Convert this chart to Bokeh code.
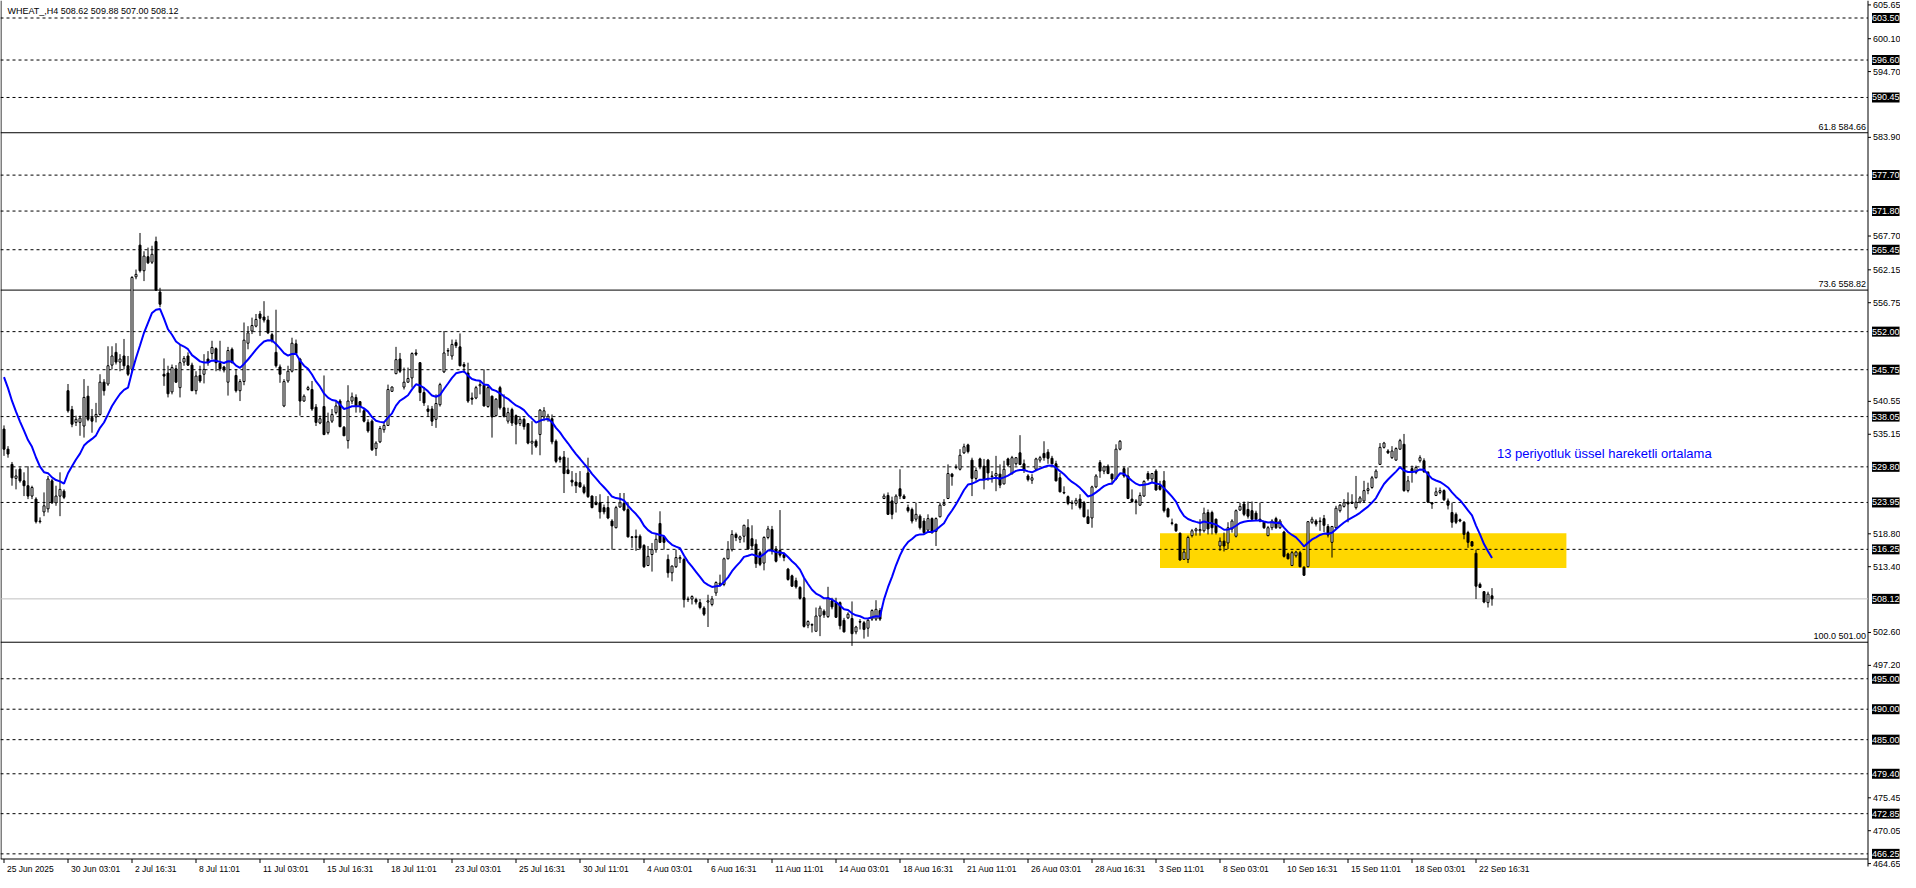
from bokeh.plotting import figure
from bokeh.models import Range1d, Label, ColumnDataSource
from bokeh.core.properties import value
from bokeh.embed import file_html
from bokeh.resources import INLINE

symbol_title = "WHEAT_,H4  508.62 509.88 507.00 508.12"

opens = [
    536.0, 532.7, 530.2, 527.9, 529.4, 527.5, 526.7, 525.0, 524.5, 520.8,
    522.4, 522.9, 527.5, 523.9, 525.0, 525.8, 542.3, 539.2, 537.1, 537.1,
    536.5, 541.4, 537.9, 538.0, 538.4, 543.7, 543.4, 546.5, 548.6, 547.0,
    548.0, 546.4, 545.8, 561.0, 566.2, 562.0, 564.3, 563.4, 566.8, 558.5,
    545.0, 545.2, 542.1, 545.9, 542.8, 547.0, 548.0, 546.5, 542.3, 544.8,
    545.0, 547.5, 548.4, 549.2, 546.8, 546.2, 543.7, 549.1, 544.8, 542.3,
    543.8, 550.1, 552.1, 552.9, 554.9, 554.4, 553.9, 551.5, 548.6, 546.2,
    539.8, 543.9, 545.5, 550.0, 547.5, 540.6, 542.5, 542.5, 539.6, 537.0,
    539.7, 535.4, 537.3, 538.7, 540.6, 536.3, 534.1, 540.6, 541.2, 540.5,
    539.0, 537.1, 537.3, 532.8, 533.9, 535.9, 536.6, 542.2, 545.1, 547.5,
    542.9, 543.7, 544.4, 548.5, 546.9, 542.0, 539.3, 539.3, 537.6, 540.0,
    545.4, 548.8, 548.0, 550.2, 549.5, 546.6, 545.2, 541.1, 541.1, 543.1,
    543.2, 539.7, 541.4, 538.2, 542.8, 539.5, 537.3, 539.2, 538.2, 536.9,
    537.6, 536.9, 533.7, 534.0, 535.1, 538.0, 537.6, 537.7, 534.0, 531.3,
    531.4, 529.3, 527.6, 527.3, 527.2, 526.5, 528.8, 525.0, 524.0, 523.9,
    523.1, 523.1, 520.9, 519.8, 523.2, 523.8, 522.8, 518.3, 518.4, 518.4,
    516.9, 513.6, 515.4, 516.2, 520.5, 518.3, 514.6, 512.4, 513.4, 514.7,
    514.6, 508.0, 508.1, 508.0, 507.5, 506.6, 507.6, 507.2, 509.1, 510.5,
    510.5, 514.7, 516.2, 518.7, 517.9, 518.4, 519.8, 518.0, 517.1, 515.7,
    514.0, 518.2, 519.5, 516.3, 516.1, 515.4, 513.0, 511.9, 511.1, 510.0,
    508.3, 503.8, 503.8, 502.8, 505.3, 506.1, 505.2, 507.8, 507.5, 507.5,
    504.6, 505.0, 504.9, 502.7, 504.4, 504.2, 503.3, 504.8, 504.8, 506.2,
    524.6, 525.1, 524.2, 523.8, 526.2, 525.0, 523.1, 522.8, 521.2, 521.7,
    520.9, 519.4, 521.3, 519.2, 521.6, 523.5, 524.6, 528.6, 529.7, 529.4,
    532.1, 533.4, 530.9, 527.9, 531.1, 529.9, 530.9, 528.3, 528.3, 528.6,
    527.0, 531.1, 528.7, 530.3, 532.1, 530.3, 528.3, 527.6, 529.4, 530.9,
    532.0, 532.2, 531.2, 530.3, 528.0, 525.6, 524.9, 523.8, 523.8, 524.5,
    523.9, 521.6, 521.4, 526.5, 530.5, 529.1, 529.9, 528.6, 527.8, 532.7,
    529.5, 528.3, 524.5, 524.2, 523.5, 525.0, 528.7, 527.8, 529.1, 526.7,
    527.5, 522.9, 520.6, 520.4, 518.9, 514.6, 514.6, 518.5, 519.3, 519.3,
    519.3, 522.3, 522.3, 521.2, 516.8, 517.6, 517.3, 519.6, 518.4, 522.7,
    523.7, 522.8, 522.6, 522.2, 521.2, 520.7, 518.5, 519.8, 521.3, 519.8,
    519.1, 515.5, 513.6, 515.2, 515.7, 513.3, 513.4, 520.7, 520.9, 520.8,
    521.3, 520.0, 517.4, 519.8, 522.6, 523.3, 524.0, 524.0, 523.1, 524.0,
    524.2, 525.9, 526.4, 528.0, 530.2, 533.0, 532.4, 531.3, 530.9, 532.7,
    533.5, 525.9, 529.5, 528.9, 530.8, 530.8, 528.9, 523.9, 525.1, 525.6,
    525.9, 524.2, 522.3, 522.0, 521.1, 520.7, 519.0, 517.5, 515.6, 510.5,
    509.3, 507.5, 508.62,
]

highs = [
    536.6, 533.2, 530.6, 529.4, 529.7, 528.9, 529.9, 526.7, 524.8, 521.5,
    525.6, 528.3, 527.8, 526.7, 528.9, 526.1, 543.4, 539.8, 538.2, 538.2,
    544.2, 543.1, 539.3, 540.3, 545.0, 544.2, 549.6, 549.6, 550.1, 548.3,
    550.8, 548.0, 561.1, 562.2, 568.2, 565.2, 565.8, 566.1, 567.6, 559.2,
    547.6, 546.4, 546.6, 546.5, 549.9, 548.0, 548.6, 546.9, 545.5, 546.4,
    548.3, 548.8, 550.5, 549.4, 550.5, 546.4, 549.5, 549.4, 545.8, 544.2,
    553.5, 552.9, 554.3, 554.9, 555.4, 557.0, 554.6, 551.8, 555.6, 546.6,
    544.2, 546.4, 551.0, 550.7, 547.7, 541.7, 543.1, 543.9, 540.1, 538.2,
    544.8, 538.7, 539.3, 540.6, 540.9, 536.5, 543.2, 542.0, 541.7, 540.6,
    539.3, 537.6, 537.6, 534.0, 536.5, 537.2, 543.3, 543.0, 549.5, 548.5,
    546.1, 546.1, 548.6, 549.1, 547.0, 542.9, 539.9, 539.8, 541.7, 543.6,
    552.1, 549.3, 550.7, 550.7, 551.7, 547.0, 546.9, 542.0, 543.1, 544.0,
    545.8, 543.1, 541.5, 541.1, 543.1, 541.7, 539.5, 539.5, 538.4, 538.1,
    537.9, 537.0, 537.3, 534.3, 539.3, 539.6, 538.5, 538.4, 534.3, 531.6,
    532.4, 531.3, 529.1, 528.8, 529.1, 526.9, 531.3, 525.1, 525.0, 525.3,
    523.6, 525.0, 521.2, 523.4, 525.5, 525.5, 524.0, 518.4, 519.5, 518.7,
    517.1, 516.8, 517.3, 518.7, 522.5, 518.4, 515.4, 513.6, 516.2, 515.3,
    514.9, 508.5, 508.7, 508.3, 508.1, 506.9, 508.8, 508.6, 511.0, 512.1,
    514.9, 517.6, 519.4, 519.0, 518.5, 520.3, 521.2, 520.2, 517.9, 516.0,
    518.4, 520.1, 520.1, 516.8, 522.7, 515.7, 513.2, 512.1, 511.6, 510.2,
    511.5, 504.6, 504.1, 506.7, 507.0, 506.4, 510.1, 508.3, 508.3, 507.7,
    505.0, 505.9, 507.7, 503.7, 504.8, 504.5, 504.8, 506.4, 507.9, 506.6,
    525.4, 525.6, 524.9, 525.3, 529.4, 525.3, 523.6, 523.1, 523.9, 522.0,
    521.4, 522.0, 521.5, 521.5, 523.9, 524.5, 530.2, 528.8, 530.2, 532.7,
    533.6, 533.6, 531.3, 529.7, 531.3, 531.1, 531.1, 529.1, 531.6, 530.2,
    530.8, 531.3, 531.6, 531.4, 535.0, 531.0, 528.6, 528.6, 531.3, 531.6,
    534.0, 532.7, 531.6, 530.8, 528.8, 526.6, 525.1, 524.3, 524.7, 525.3,
    524.2, 522.8, 526.7, 528.6, 530.9, 530.0, 530.2, 528.7, 533.5, 534.2,
    529.8, 529.7, 526.1, 524.5, 525.6, 527.6, 529.1, 528.8, 529.4, 527.5,
    529.1, 523.1, 521.3, 520.4, 519.0, 516.3, 518.5, 519.6, 519.8, 521.2,
    523.1, 522.8, 522.6, 521.3, 518.2, 519.0, 520.7, 521.2, 522.8, 523.9,
    524.1, 524.1, 524.1, 522.6, 523.9, 520.9, 520.1, 521.2, 521.6, 521.2,
    519.3, 515.7, 516.0, 516.0, 516.0, 513.5, 520.9, 521.6, 521.2, 521.5,
    521.9, 520.4, 520.1, 523.4, 523.7, 524.5, 525.6, 525.3, 528.3, 525.0,
    527.5, 527.2, 528.3, 529.4, 533.7, 533.9, 532.7, 533.2, 533.0, 534.4,
    535.2, 528.3, 530.0, 530.0, 531.7, 531.2, 529.1, 524.0, 526.4, 526.4,
    526.1, 524.6, 523.9, 522.3, 521.3, 520.9, 519.3, 517.6, 516.2, 510.8,
    509.4, 509.3, 509.88,
]

lows = [
    531.6, 531.3, 526.7, 526.1, 527.2, 525.0, 524.5, 524.5, 520.5, 520.5,
    521.7, 522.3, 523.7, 523.4, 521.7, 524.5, 538.7, 536.3, 536.5, 534.9,
    534.6, 537.3, 535.4, 537.1, 538.2, 541.5, 543.1, 545.8, 546.6, 545.5,
    545.8, 544.7, 545.3, 560.6, 561.7, 560.3, 563.1, 563.1, 558.8, 556.0,
    543.1, 541.2, 541.7, 543.6, 541.2, 546.4, 546.4, 542.3, 541.7, 543.6,
    543.5, 546.4, 547.5, 545.5, 545.5, 545.3, 541.5, 546.8, 542.0, 540.6,
    543.2, 549.1, 551.6, 552.7, 551.3, 553.5, 551.6, 550.2, 546.1, 543.6,
    539.6, 543.6, 545.3, 548.3, 538.2, 540.5, 542.3, 539.0, 536.5, 536.8,
    535.0, 535.1, 537.0, 538.4, 536.3, 534.9, 532.8, 540.1, 538.7, 538.7,
    537.1, 535.4, 532.4, 531.6, 533.7, 535.4, 536.5, 542.1, 545.0, 545.2,
    542.5, 543.6, 542.8, 548.0, 540.6, 539.8, 538.1, 536.5, 536.2, 539.7,
    545.2, 548.0, 547.4, 549.3, 546.3, 545.2, 540.3, 540.0, 540.9, 541.7,
    539.7, 539.5, 534.6, 538.1, 539.2, 537.9, 536.9, 536.5, 533.5, 536.5,
    535.9, 533.5, 531.8, 532.9, 531.7, 537.3, 537.2, 533.5, 530.4, 530.5,
    525.5, 528.6, 526.6, 525.5, 526.4, 525.3, 524.7, 523.0, 523.5, 521.3,
    522.0, 521.2, 516.2, 519.7, 523.1, 522.5, 518.2, 516.5, 516.0, 516.2,
    513.2, 513.5, 512.6, 515.7, 517.3, 516.2, 511.6, 511.0, 513.2, 514.0,
    506.7, 507.6, 507.2, 507.2, 506.4, 505.3, 503.5, 506.9, 508.6, 510.2,
    510.2, 514.6, 515.9, 517.6, 517.3, 517.4, 516.2, 516.2, 513.2, 513.5,
    512.8, 517.9, 515.4, 514.1, 514.9, 514.3, 511.1, 510.1, 509.8, 508.0,
    503.4, 503.3, 502.6, 502.8, 502.0, 505.0, 505.0, 506.4, 505.0, 503.1,
    502.6, 504.8, 500.4, 502.3, 503.1, 501.6, 501.9, 504.5, 504.5, 504.5,
    524.5, 521.9, 521.2, 522.3, 524.5, 524.5, 522.3, 520.5, 520.8, 519.5,
    518.7, 519.0, 518.8, 516.8, 521.5, 523.4, 524.5, 526.7, 529.4, 529.2,
    531.9, 532.0, 525.0, 527.5, 529.4, 526.1, 527.5, 527.2, 525.8, 526.3,
    526.9, 529.8, 528.5, 530.0, 530.1, 528.8, 527.4, 527.0, 529.1, 530.5,
    530.8, 530.3, 530.2, 527.4, 525.6, 525.3, 523.5, 522.8, 523.4, 522.8,
    521.5, 520.4, 519.8, 526.3, 528.0, 528.6, 528.6, 526.9, 527.6, 532.5,
    528.0, 524.5, 523.9, 522.0, 523.4, 524.9, 527.5, 527.2, 525.9, 525.9,
    522.3, 521.5, 520.2, 519.1, 514.4, 514.5, 514.0, 518.2, 518.5, 518.5,
    519.0, 518.7, 518.7, 518.7, 516.0, 515.9, 516.3, 519.0, 518.2, 522.6,
    521.7, 521.3, 521.1, 520.9, 520.7, 519.6, 518.4, 519.4, 519.6, 519.6,
    514.9, 514.6, 513.5, 514.9, 513.3, 511.9, 513.3, 520.4, 520.0, 519.3,
    519.1, 518.2, 514.9, 519.6, 522.3, 523.1, 520.7, 523.7, 522.8, 523.8,
    523.9, 525.3, 526.2, 527.9, 530.1, 532.8, 531.9, 531.1, 530.8, 532.6,
    525.7, 525.6, 527.2, 528.6, 530.5, 528.8, 523.9, 522.9, 525.0, 525.3,
    524.2, 522.8, 519.8, 520.4, 520.7, 517.9, 516.5, 516.7, 508.1, 510.0,
    507.4, 506.7, 507.00,
]

closes = [
    532.7, 531.9, 528.0, 528.3, 527.5, 526.7, 525.0, 526.4, 520.8, 520.9,
    523.4, 527.8, 523.9, 525.0, 526.1, 524.8, 539.0, 536.8, 537.6, 537.8,
    541.2, 537.6, 537.3, 538.4, 543.7, 542.3, 546.4, 548.0, 547.0, 547.5,
    546.4, 545.0, 560.9, 561.4, 562.0, 564.4, 563.3, 564.7, 558.8, 556.5,
    544.7, 541.8, 546.1, 543.7, 546.9, 547.6, 546.5, 542.3, 544.7, 543.9,
    545.8, 546.9, 549.4, 546.9, 545.9, 545.7, 548.9, 546.9, 542.3, 543.8,
    550.6, 551.8, 553.0, 554.0, 554.2, 553.9, 551.8, 550.5, 546.4, 545.0,
    543.8, 545.5, 550.1, 548.4, 540.6, 541.4, 542.8, 539.3, 537.1, 537.7,
    535.1, 537.2, 538.4, 539.8, 536.4, 534.9, 540.6, 541.3, 539.8, 539.7,
    537.3, 535.7, 532.6, 533.7, 536.1, 536.6, 542.5, 542.9, 547.4, 545.5,
    543.7, 544.3, 548.4, 548.3, 542.0, 540.3, 538.9, 537.3, 540.2, 543.3,
    548.5, 548.9, 549.9, 549.7, 546.4, 546.3, 540.6, 540.9, 542.8, 543.3,
    539.8, 542.8, 538.0, 540.9, 539.5, 538.1, 538.7, 537.0, 536.8, 537.6,
    536.4, 533.7, 534.0, 533.2, 539.1, 539.0, 538.1, 533.9, 530.7, 531.0,
    528.7, 528.7, 527.3, 526.7, 526.5, 525.6, 524.9, 523.1, 523.6, 522.4,
    522.4, 521.4, 520.1, 523.1, 523.9, 522.7, 518.3, 518.2, 518.2, 516.5,
    513.4, 515.1, 516.2, 517.9, 517.4, 517.4, 512.4, 513.5, 514.9, 514.9,
    508.0, 508.1, 508.5, 507.6, 506.7, 505.6, 507.8, 508.1, 510.8, 510.7,
    514.7, 516.2, 518.7, 518.2, 518.3, 520.2, 516.3, 516.8, 513.9, 513.8,
    518.2, 519.6, 516.0, 514.3, 515.3, 514.9, 511.3, 510.2, 510.1, 508.2,
    503.6, 504.4, 503.9, 505.3, 506.6, 505.5, 508.3, 506.8, 505.1, 503.7,
    502.7, 505.6, 502.4, 503.5, 504.3, 503.1, 504.6, 506.2, 506.4, 504.8,
    525.0, 522.0, 522.0, 525.0, 525.0, 524.6, 522.6, 520.9, 522.0, 519.8,
    519.0, 521.3, 519.0, 521.3, 523.5, 523.8, 528.7, 528.2, 529.8, 531.7,
    533.1, 532.3, 527.9, 529.2, 529.8, 527.7, 528.8, 528.2, 528.7, 526.8,
    529.4, 530.1, 531.3, 531.3, 530.2, 529.2, 527.7, 528.0, 531.1, 531.3,
    531.3, 531.2, 530.3, 527.5, 525.7, 525.5, 523.8, 523.9, 524.3, 523.1,
    521.6, 520.5, 526.5, 528.3, 529.1, 529.8, 528.7, 527.8, 532.7, 534.0,
    528.3, 524.6, 524.1, 524.1, 525.1, 527.4, 527.8, 528.7, 526.0, 526.1,
    522.6, 521.6, 520.5, 519.3, 514.5, 515.8, 518.2, 519.3, 519.6, 519.5,
    522.2, 519.6, 519.8, 519.0, 517.6, 516.8, 519.8, 520.9, 522.6, 523.3,
    522.0, 521.7, 521.2, 521.2, 520.9, 519.8, 519.8, 520.9, 519.8, 520.9,
    515.1, 514.7, 515.7, 515.8, 513.4, 512.0, 520.8, 521.2, 520.4, 520.9,
    520.2, 518.6, 520.0, 523.0, 523.5, 523.9, 523.7, 523.8, 524.0, 524.7,
    525.9, 526.2, 528.0, 529.1, 533.0, 533.7, 532.1, 532.4, 532.8, 534.1,
    525.9, 527.5, 528.9, 529.7, 531.3, 529.0, 524.0, 523.7, 525.7, 525.9,
    524.4, 523.5, 520.7, 520.7, 520.9, 518.7, 517.4, 516.8, 510.2, 510.0,
    507.6, 508.9, 508.12,
]

time_labels = [
    "25 Jun 2025", "30 Jun 03:01", "2 Jul 16:31", "8 Jul 11:01", "11 Jul 03:01",
    "15 Jul 16:31", "18 Jul 11:01", "23 Jul 03:01", "25 Jul 16:31", "30 Jul 11:01",
    "4 Aug 03:01", "6 Aug 16:31", "11 Aug 11:01", "14 Aug 03:01", "18 Aug 16:31",
    "21 Aug 11:01", "26 Aug 03:01", "28 Aug 16:31", "3 Sep 11:01", "8 Sep 03:01",
    "10 Sep 16:31", "15 Sep 11:01", "18 Sep 03:01", "22 Sep 16:31",
]
bars_per_label = 16

level_lines = [603.50, 596.60, 590.45, 577.70, 571.80, 565.45, 552.00, 545.75,
               538.05, 529.80, 523.95, 516.25, 495.00, 490.00, 485.00, 479.40,
               472.85, 466.25]
fib_levels = [584.66, 558.82, 501.00]
fib_names = ["61.8", "73.6", "100.0"]
bid_price = 508.12

price_scale_values = [605.65, 600.10, 594.70, 583.90, 567.70, 562.15, 556.75, 540.55,
                      535.15, 518.80, 513.40, 502.60, 497.20, 475.45, 470.05, 464.65]

zone_start_bar, zone_end_bar = 289, 390.6
zone_bottom, zone_top = 513.2, 518.9

ema_period = 13
ema_prior = 546.5
ema_note = "13 periyotluk üssel hareketli ortalama"
ema_note_bar, ema_note_price = 373.25, 532.0

# ---------------- layout constants (pixels) ----------------
FONT = "Liberation Sans"
canvas_w, canvas_h = 1900, 872
px_per_bar = 4.0
first_bar_px = 3.5           # centre of bar 0 from the left edge
scale_px = 1867.5            # price-scale line
chart_bottom_px = 858.5      # bottom border of the chart area
tick_len_px = 4
time_text_px = 868          # centre line of the time texts
px_per_price = 6.09
price_top = 603.50 + 17.5 / px_per_price

x_start = -first_bar_px / px_per_bar
x_end = x_start + canvas_w / px_per_bar
x_scale = x_start + scale_px / px_per_bar


def y_px(px):
    """price at a given distance in pixels from the top edge"""
    return price_top - px / px_per_price


price_bottom = y_px(canvas_h)

n = len(closes)
xs = list(range(n))
alpha = 2.0 / (ema_period + 1)
ema = []
prev = ema_prior
for c in closes:
    prev = prev + alpha * (c - prev)
    ema.append(prev)

src = ColumnDataSource(dict(
    x=xs, open=opens, high=highs, low=lows, close=closes,
    top=[max(o, c) for o, c in zip(opens, closes)],
    bottom=[min(o, c) for o, c in zip(opens, closes)],
    fill=["white" if c > o else "black" for o, c in zip(opens, closes)],
))

p = figure(width=canvas_w, height=canvas_h,
           x_range=Range1d(x_start, x_end), y_range=Range1d(price_bottom, price_top),
           x_axis_location=None, y_axis_location=None,
           output_backend="svg", toolbar_location=None,
           min_border_left=0, min_border_top=0, min_border_right=0, min_border_bottom=0,
           background_fill_color="white", border_fill_color="white",
           outline_line_color=None)
p.grid.visible = False

# chart borders: left edge, bottom edge, price-scale line
p.segment(x0=[x_start + 0.5 / px_per_bar], x1=[x_start + 0.5 / px_per_bar],
          y0=[y_px(0)], y1=[y_px(chart_bottom_px)], line_color="black", line_width=1)
p.segment(x0=[x_start], x1=[x_scale], y0=[y_px(chart_bottom_px)], y1=[y_px(chart_bottom_px)],
          line_color="black", line_width=1)
p.segment(x0=[x_scale], x1=[x_scale], y0=[y_px(0)], y1=[y_px(866)],
          line_color="black", line_width=1)

# highlighted zone
p.quad(left=[zone_start_bar], right=[zone_end_bar], bottom=[zone_bottom], top=[zone_top],
       fill_color="#FFD700", line_color=None)

# horizontal levels, ending at the price scale
p.segment(x0=[x_start] * len(level_lines), x1=[x_scale] * len(level_lines),
          y0=level_lines, y1=level_lines, line_color="black", line_dash="3 3", line_width=1)
p.segment(x0=[x_start] * len(fib_levels), x1=[x_scale] * len(fib_levels),
          y0=fib_levels, y1=fib_levels, line_color="black", line_width=1)
p.segment(x0=[x_start], x1=[x_scale], y0=[bid_price], y1=[bid_price],
          line_color="#C0C0C0", line_width=1)

# candles
p.segment(x0="x", y0="low", x1="x", y1="high", source=src, line_color="black", line_width=1)
p.vbar(x="x", width=0.5, top="top", bottom="bottom", source=src,
       fill_color="fill", line_color="black", line_width=1)

# EMA
p.line(xs, ema, line_color="#0000FF", line_width=2)

# time scale: tick marks below the bottom border and texts to their right
tick_bars = [k * bars_per_label for k in range(len(time_labels))]
p.segment(x0=tick_bars, x1=tick_bars, y0=[y_px(chart_bottom_px)] * len(tick_bars),
          y1=[y_px(chart_bottom_px + tick_len_px)] * len(tick_bars),
          line_color="black", line_width=1)
p.text(x=tick_bars, y=[y_px(time_text_px)] * len(tick_bars), text=time_labels,
       x_offset=3, text_font=value(FONT), text_font_size="8.5px", text_color="black",
       text_baseline="middle", text_align="left")

# price scale: tick marks and texts
m = len(price_scale_values)
p.segment(x0=[x_scale] * m, x1=[x_scale + 3 / px_per_bar] * m,
          y0=price_scale_values, y1=price_scale_values, line_color="black", line_width=1)
p.text(x=[x_scale] * m, y=price_scale_values, text=[f"{v:.2f}" for v in price_scale_values],
       x_offset=5, text_font=value(FONT), text_font_size="9px", text_color="black",
       text_baseline="middle", text_align="left")

# boxed prices of the horizontal levels and of the bid
for lvl in level_lines + [bid_price]:
    p.add_layout(Label(x=x_scale, y=lvl, x_offset=4, text=f"{lvl:.2f}",
                       text_font=FONT, text_font_size="9px", text_color="white",
                       background_fill_color="black", padding=(0, 2),
                       text_baseline="middle", text_align="left"))

# title
p.add_layout(Label(x=x_start, y=price_top, x_offset=7, y_offset=-10,
                   text=symbol_title, text_font=FONT, text_font_size="9px",
                   text_color="black", text_baseline="middle", text_align="left"))

# EMA note
p.add_layout(Label(x=ema_note_bar, y=ema_note_price, text=ema_note, text_font=FONT,
                   text_font_size="13px", text_color="#0000FF",
                   text_baseline="middle", text_align="left"))

# fib texts
for name, lvl in zip(fib_names, fib_levels):
    p.add_layout(Label(x=x_scale, y=lvl, x_offset=-2, y_offset=1,
                       text=f"{name} {lvl:.2f}", text_font=FONT, text_font_size="9px",
                       text_color="black", text_baseline="bottom", text_align="right"))

open("out.html", "w").write(file_html(p, INLINE))
